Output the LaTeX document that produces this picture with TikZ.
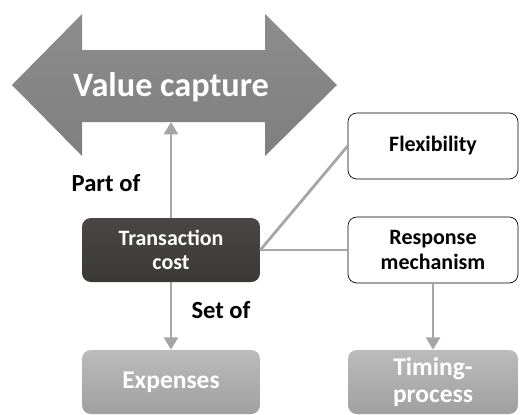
\documentclass[tikz,border=0pt]{standalone}
\usepackage{fontspec}
\setmainfont{Carlito}
\usepackage{tikz}
\usepackage{xcolor}
\usetikzlibrary{arrows.meta}

\definecolor{capgray}{HTML}{7F7F7F}
\definecolor{capgraylt}{HTML}{8C8C8C}
\definecolor{darkbox}{HTML}{3B3838}
\definecolor{darkboxlt}{HTML}{4A4646}
\definecolor{lightbox}{HTML}{A0A0A0}
\definecolor{lightboxlt}{HTML}{BBBBBB}
\definecolor{linkgray}{HTML}{A6A6A6}

\tikzset{
  darkcell/.style={rounded corners=5pt, top color=darkboxlt, bottom color=darkbox,
    text=white, font=\bfseries\fontsize{12.5}{14}\selectfont, align=center,
    minimum width=3.56cm, minimum height=1.28cm},
  greycell/.style={rounded corners=5pt, top color=lightboxlt, bottom color=lightbox,
    text=white, font=\bfseries\fontsize{14.5}{15}\selectfont, align=center,
    minimum height=1.28cm},
  whitecell/.style={rounded corners=5pt, draw=black, thin, fill=white,
    font=\bfseries\fontsize{12.5}{14}\selectfont, align=center,
    minimum width=3.4cm, minimum height=1.32cm},
  link/.style={draw=linkgray, line width=1.6pt},
  linkarrow/.style={link, -{Triangle[length=7pt,width=8pt]}},
  tag/.style={font=\bfseries\fontsize{14}{15}\selectfont}
}

\begin{document}
\begin{tikzpicture}[x=0.02cm,y=-0.02cm]
  \useasboundingbox (0,0) rectangle (520,414);
  \clip (0,0) rectangle (520,414);

  % big double arrow
  \path[top color=capgraylt, bottom color=capgray]
    (12,85) -- (82,14) -- (82,50) -- (265,50) -- (265,14) -- (337,85)
    -- (265,156) -- (265,122) -- (82,122) -- (82,156) -- cycle;
  \node[text=white, font=\bfseries\fontsize{19.5}{20}\selectfont] (capture) at (171,87) {Value capture};
  \coordinate (capbot) at (171,122);

  % boxes
  \node[darkcell] (tcost) at (171,250) {Transaction\\cost};
  \node[greycell, minimum width=3.56cm] (expenses) at (171,382) {Expenses};
  \node[whitecell] (flex) at (433,146) {Flexibility};
  \node[whitecell] (respmech) at (433,250) {Response\\mechanism};
  \node[greycell, minimum width=3.4cm] (timing) at (433,382) {Timing-\\process};

  % links
  \draw[linkarrow] (tcost) -- (capbot);
  \draw[linkarrow] (tcost) -- (expenses);
  \draw[link] (tcost.east) -- (flex.west);
  \draw[link] (tcost.east) -- (respmech.west);
  \draw[linkarrow] (respmech) -- (timing);

  \node[tag] (partof) at (106,183) {Part of};
  \node[tag] (setof) at (221,310) {Set of};
\end{tikzpicture}
\end{document}
